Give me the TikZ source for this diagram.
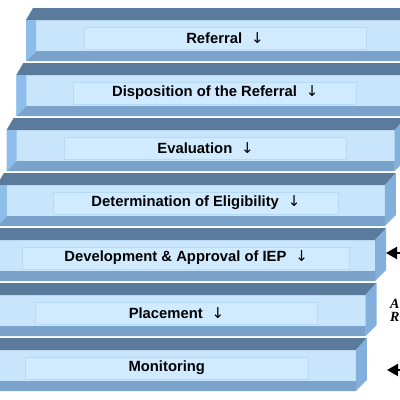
\documentclass[tikz,border=0pt]{standalone}
\usepackage{fontspec}
\setmainfont{Liberation Sans}
\newfontfamily\notefont{Liberation Serif}
\newfontfamily\arrowfont{DejaVu Sans}
\usetikzlibrary{arrows.meta,positioning}
\definecolor{topblue}{HTML}{5A7B9B}
\definecolor{frontblue}{HTML}{C9E5FB}
\definecolor{innerblue}{HTML}{D0EBFF}
\definecolor{edgeblue}{HTML}{B6DAF6}
\definecolor{bandblue}{HTML}{7BA2CB}
\definecolor{bevelblue}{HTML}{8CBDEB}
\definecolor{sideblue}{HTML}{82AFDC}
\newcommand{\dn}{\hspace{0.6em}{\arrowfont\mdseries\fontsize{15}{16}\selectfont ↓}}

% one step of the staircase: index, name, text, width of the text box
\newcommand{\stepslab}[4]{%
  \pgfmathsetmacro{\sL}{26-9.7*#1}
  \pgfmathsetmacro{\sR}{414-9.7*#1}
  \pgfmathsetmacro{\sT}{8+55*#1}
  \pgfmathsetmacro{\sF}{\sT+12}
  \pgfmathsetmacro{\sB}{\sT+53}
  \pgfmathsetmacro{\sC}{(\sL+10+\sR)/2}
  \fill[frontblue] (\sL,\sF) rectangle (\sR,\sB);
  \fill[topblue] (\sL,\sF) -- (\sL+7,\sT) -- (\sR+11,\sT) -- (\sR,\sF) -- cycle;
  \fill[sideblue] (\sR,\sF) -- (\sR+11,\sT) -- (\sR+11,\sB-11) -- (\sR,\sB) -- cycle;
  \fill[bandblue] (\sL,\sB) -- (\sL+10,\sB-10) -- (\sR,\sB-10) -- (\sR,\sB) -- cycle;
  \fill[bevelblue] (\sL,\sF) -- (\sL+10,\sF) -- (\sL+10,\sB-10) -- (\sL,\sB) -- cycle;
  \node[textbox,minimum width=#4] (#2) at (\sC,\sF+18) {#3};
}

\begin{document}
\begin{tikzpicture}[x=1pt,y=-1pt,
    textbox/.style={fill=innerblue,draw=edgeblue,line width=0.8pt,
      minimum height=22pt,inner sep=0pt,
      font=\fontsize{14.8}{16}\selectfont\bfseries},
    note/.style={font=\notefont\fontsize{14}{15}\selectfont\bfseries\itshape,
      anchor=west,inner sep=0pt},
    feed/.style={line width=2.2pt,-{Triangle[length=11pt,width=12pt]}}
    ]
    \useasboundingbox (0,0) rectangle (400,400);
    \fill[white] (0,0) rectangle (400,400);

    \stepslab{0}{referral}{Referral\dn}{282}
    \stepslab{1}{disposition}{Disposition of the Referral\dn}{283}
    \stepslab{2}{evaluation}{Evaluation\dn}{282}
    \stepslab{3}{eligibility}{Determination of Eligibility\dn}{285}
    \stepslab{4}{iep}{Development \& Approval of IEP\dn}{327}
    \stepslab{5}{placement}{Placement\dn}{282}
    \stepslab{6}{monitoring}{Monitoring}{283}

    % the side notes
    \node[note] (nota) at (390,304) {A};
    \node[note] (notr) at (390,317) {R};
    \coordinate (iepin) at (403,253);
    \coordinate (iepat) at (386,253);
    \coordinate (monin) at (403,370);
    \coordinate (monat) at (387,370);
    \draw[feed] (iepin) -- (iepat);
    \draw[feed] (monin) -- (monat);
\end{tikzpicture}
\end{document}
